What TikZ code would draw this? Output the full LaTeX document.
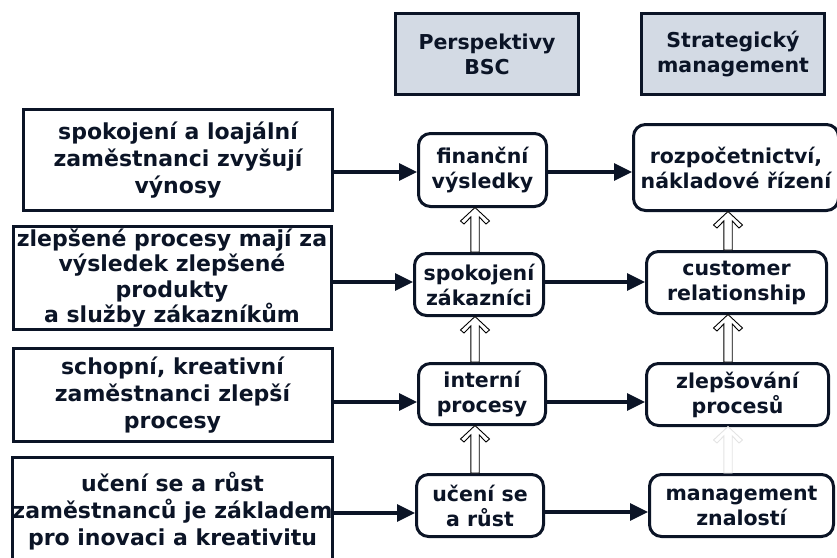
\documentclass[tikz,border=0pt]{standalone}
\usepackage{fontspec}
\setmainfont{DejaVu Sans}
\usetikzlibrary{arrows.meta,calc}
\definecolor{ink}{HTML}{0B1426}
\definecolor{hdrfill}{HTML}{D3DAE4}
\definecolor{ghost}{HTML}{E4E4E4}

% hollow block arrow pointing up: #2 = foot point, #3 = tip point
\newcommand\liftarrow[3][black]{%
  \draw[draw=#1, fill=white, line width=0.9pt, line join=miter]
    let \p1=(#2), \p2=(#3) in
    (\x1-4.2pt,\y1) -- (\x1-4.2pt,\y2-9pt) -- (\x1-11pt,\y2-16pt)
    -- (\x1-14.5pt,\y2-13pt) -- (\x1,\y2+0.5pt) -- (\x1+14.5pt,\y2-13pt)
    -- (\x1+11pt,\y2-16pt) -- (\x1+4.2pt,\y2-9pt) -- (\x1+4.2pt,\y1) -- cycle;}

\begin{document}
\begin{tikzpicture}[x=1pt,y=-1pt,
  every node/.style={text=ink, align=center, inner sep=0pt},
  causebox/.style={draw=ink, line width=3pt, fill=white,
    font=\fontsize{22}{27}\selectfont\bfseries},
  headbox/.style={draw=ink, line width=3pt, fill=hdrfill,
    minimum width=183pt, minimum height=81pt,
    font=\fontsize{20.5}{25}\selectfont\bfseries},
  bscbox/.style={draw=ink, line width=3pt, rounded corners=12pt, fill=white,
    font=\fontsize{20.5}{25}\selectfont\bfseries},
  conn/.style={draw=ink, line width=3.3pt, -{Triangle[length=18pt,width=17pt]}},
]
\useasboundingbox (0,0) rectangle (837,557);

% column headers
\node[headbox] (h1) at (487,54) {Perspektivy\\BSC};
\node[headbox] (h2) at (733,54) {Strategický\\management};

% cause statements
\node[causebox, minimum width=309pt, minimum height=101pt] (l1) at (178,160)
  {spokojení a loajální\\zaměstnanci zvyšují\\výnosy};
\node[causebox, minimum width=318pt, minimum height=103pt,
  font=\fontsize{22}{25.5}\selectfont\bfseries] (l2) at (172,278)
  {zlepšené procesy mají za\\výsledek zlepšené\\produkty\\a služby zákazníkům};
\node[causebox, minimum width=319pt, minimum height=93pt] (l3) at (172.5,395)
  {schopní, kreativní\\zaměstnanci zlepší\\procesy};
\node[causebox, minimum width=319pt, minimum height=108pt] (l4) at (172.5,511)
  {učení se a růst\\zaměstnanců je základem\\pro inovaci a kreativitu};

% BSC perspectives
\node[bscbox, minimum width=128pt, minimum height=73pt] (m1) at (482.5,170) {finanční\\výsledky};
\node[bscbox, minimum width=129pt, minimum height=62pt] (m2) at (479,284.5) {spokojení\\zákazníci};
\node[bscbox, minimum width=127pt, minimum height=61pt] (m3) at (482,394) {interní\\procesy};
\node[bscbox, minimum width=127pt, minimum height=62pt] (m4) at (480,505.5) {učení se\\a růst};

% strategic management
\node[bscbox, minimum width=205pt, minimum height=86pt] (r1) at (736,167.5) {rozpočetnictví,\\nákladové řízení};
\node[bscbox, minimum width=180pt, minimum height=62pt] (r2) at (736.5,282.5) {customer\\relationship};
\node[bscbox, minimum width=182pt, minimum height=62pt] (r3) at (737.5,394.5) {zlepšování\\procesů};
\node[bscbox, minimum width=184pt, minimum height=62pt] (r4) at (741.5,505.5) {management\\znalostí};

% connectors
\draw[conn] (l1.east |- 0,172) -- (m1.west |- 0,172);
\draw[conn] (l2.east |- 0,282) -- (m2.west |- 0,282);
\draw[conn] (l3.east |- 0,402) -- (m3.west |- 0,402);
\draw[conn] (l4.east |- 0,513) -- (m4.west |- 0,513);
\draw[conn] (m1.east |- 0,172) -- (r1.west |- 0,172);
\draw[conn] (m2.east |- 0,282) -- (r2.west |- 0,282);
\draw[conn] (m3.east |- 0,402) -- (r3.west |- 0,402);
\draw[conn] (m4.east |- 0,512) -- (r4.west |- 0,512);

% upward block arrows
\coordinate (cm) at (475,0);
\coordinate (cr) at (728,0);
\liftarrow{m2.north -| cm}{m1.south -| cm}
\liftarrow{m3.north -| cm}{m2.south -| cm}
\liftarrow{m4.north -| cm}{m3.south -| cm}
\liftarrow{r2.north -| cr}{r1.south -| cr}
\liftarrow{r3.north -| cr}{r2.south -| cr}
\liftarrow[ghost]{r4.north -| cr}{r3.south -| cr}
\end{tikzpicture}
\end{document}
